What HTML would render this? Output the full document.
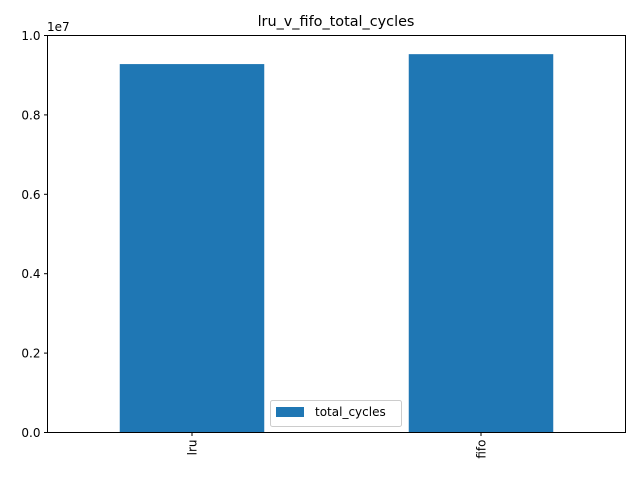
<!DOCTYPE html>
<html><head><meta charset="utf-8"><style>
body{margin:0;background:#fff;}
svg{display:block;font-family:"DejaVu Sans","Liberation Sans",sans-serif;}
</style></head><body>
<svg id="chart" width="640" height="480">
<text x="336" y="26" font-size="14.4" text-anchor="middle" fill="#000">lru_v_fifo_total_cycles</text>
<text x="47" y="31" font-size="12" fill="#000">1e7</text>
<g id="bars"></g>
<g id="yticks"></g>
<g id="xticks"></g>
<rect x="47.5" y="35.5" width="578" height="397" fill="none" stroke="#000" stroke-width="1"/>
<g>
<rect x="270.5" y="400.5" width="131" height="26" rx="2" fill="#fff" fill-opacity="0.8" stroke="#ccc"/>
<rect x="276" y="407" width="28" height="10" fill="#1f77b4"/>
<text x="315" y="416" font-size="12" fill="#000">total_cycles</text>
</g>
</svg>
<script>
const categories = ["lru", "fifo"];
const values = [9.28e6, 9.53e6];
const yTicks = [0, 2e6, 4e6, 6e6, 8e6, 1e7];
const yTickLabels = ["0.0", "0.2", "0.4", "0.6", "0.8", "1.0"];
const NS = "http://www.w3.org/2000/svg";
const L = 47.5, R = 625.5, T = 35.5, B = 432.5;
function yScale(v){ return B - (v / 1e7) * (B - T); }
function xScale(i){ return L + (i + 0.5) / categories.length * (R - L); }
const bw = (R - L) / categories.length * 0.5;
const bars = document.getElementById("bars");
values.forEach((v, i) => {
  const r = document.createElementNS(NS, "rect");
  r.setAttribute("x", xScale(i) - bw / 2);
  r.setAttribute("y", yScale(v));
  r.setAttribute("width", bw);
  r.setAttribute("height", B - yScale(v));
  r.setAttribute("fill", "#1f77b4");
  
  
  bars.appendChild(r);
});
const yg = document.getElementById("yticks");
yTicks.forEach((t, i) => {
  const y = yScale(t);
  const ln = document.createElementNS(NS, "line");
  ln.setAttribute("x1", L - 3.5); ln.setAttribute("x2", L);
  ln.setAttribute("y1", y); ln.setAttribute("y2", y);
  ln.setAttribute("stroke", "#000");
  
  
  yg.appendChild(ln);
  const tx = document.createElementNS(NS, "text");
  tx.setAttribute("x", L - 7); tx.setAttribute("y", y + 4.5);
  tx.setAttribute("font-size", "12"); tx.setAttribute("text-anchor", "end");
  tx.textContent = yTickLabels[i];
  
  
  yg.appendChild(tx);
});
const xg = document.getElementById("xticks");
categories.forEach((c, i) => {
  const x = xScale(i);
  const ln = document.createElementNS(NS, "line");
  ln.setAttribute("x1", x); ln.setAttribute("x2", x);
  ln.setAttribute("y1", B); ln.setAttribute("y2", B + 3.5);
  ln.setAttribute("stroke", "#000");
  
  
  xg.appendChild(ln);
  const tx = document.createElementNS(NS, "text");
  tx.setAttribute("transform", "translate(" + (x + 4.5) + "," + (B + 7) + ") rotate(-90)");
  tx.setAttribute("font-size", "12"); tx.setAttribute("text-anchor", "end");
  tx.textContent = c;
  
  
  xg.appendChild(tx);
});
</script>
</body></html>
